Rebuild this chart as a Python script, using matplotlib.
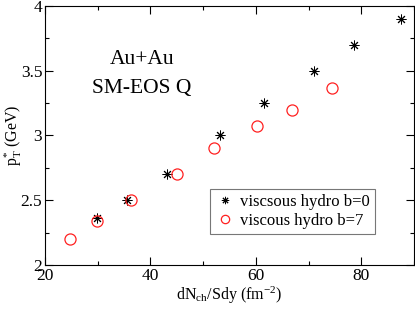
import matplotlib
matplotlib.use("Agg")
import matplotlib.pyplot as plt
from matplotlib.ticker import MultipleLocator

plt.rcParams['font.family'] = ['Liberation Serif', 'DejaVu Serif']
plt.rcParams['mathtext.fontset'] = 'custom'
plt.rcParams['mathtext.rm'] = 'Liberation Serif'
plt.rcParams['mathtext.it'] = 'Liberation Serif:italic'

b0_x = [29.9, 35.5, 43.2, 53.2, 61.6, 71.1, 78.6, 87.6]
b0_y = [2.36, 2.50, 2.70, 3.00, 3.25, 3.50, 3.70, 3.90]
b7_x = [24.8, 29.8, 36.3, 45.0, 52.1, 60.2, 66.8, 74.4]
b7_y = [2.20, 2.34, 2.50, 2.70, 2.90, 3.07, 3.20, 3.37]

fig = plt.figure(figsize=(4.15, 3.09), dpi=100)
ax = fig.add_axes([0.1084, 0.1424, 0.8892, 0.8382])

ax.plot(b0_x, b0_y, linestyle='none', marker=(8, 2, 0), color='black',
        markersize=7, markeredgewidth=0.7, label='viscsous hydro b=0')
ax.plot(b7_x, b7_y, linestyle='none', marker='o', markerfacecolor='none',
        markeredgecolor='#ff2020', markersize=8, markeredgewidth=0.9,
        label='viscous hydro b=7')

ax.set_xlim(20, 90)
ax.set_ylim(2, 4)
ax.xaxis.set_major_locator(MultipleLocator(20))
ax.xaxis.set_minor_locator(MultipleLocator(10))
ax.yaxis.set_minor_locator(MultipleLocator(0.25))
ax.set_yticks([2, 2.5, 3, 3.5, 4])
ax.set_yticklabels(['2', '2.5', '3', '3.5', '4'])
ax.tick_params(which='both', direction='in', top=True, right=True,
               labelsize=12.5, width=0.8)
ax.tick_params(which='major', length=6)
ax.tick_params(which='minor', length=3)
ax.tick_params(axis='x', pad=2)
ax.tick_params(axis='y', pad=2)

ax.set_xlabel(r'dN$_{\rm ch}$/Sdy (fm$^{-2}$)', fontsize=11.5, labelpad=1)
ax.set_ylabel(r'p$^{*}_{\rm T}$ (GeV)', fontsize=11.5)
ax.yaxis.set_label_coords(-0.058, 0.5)

ax.text(0.263, 0.795, 'Au+Au', transform=ax.transAxes, fontsize=15.5,
        ha='center', va='center')
ax.text(0.263, 0.683, 'SM-EOS Q', transform=ax.transAxes, fontsize=15.5,
        ha='center', va='center')

leg = ax.legend(loc='lower left', bbox_to_anchor=(0.447, 0.12), fontsize=12,
                frameon=True, fancybox=False, handletextpad=0.3,
                borderpad=0.3, labelspacing=0.2, handlelength=1.2,
                borderaxespad=0, markerscale=0.75)
leg.get_frame().set_edgecolor('#555555')
leg.get_frame().set_linewidth(0.8)

fig.savefig('out.png', dpi=100)
